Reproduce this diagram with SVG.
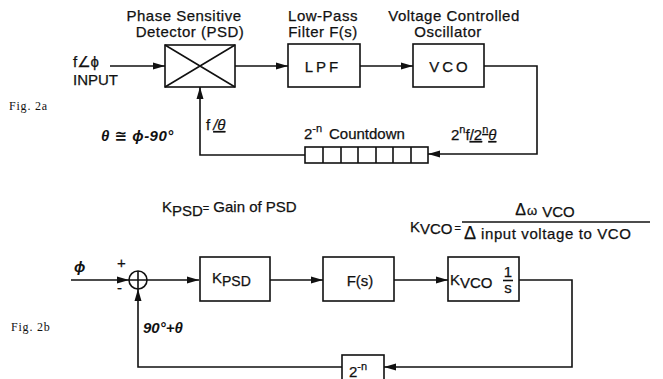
<svg xmlns="http://www.w3.org/2000/svg" width="663" height="379" viewBox="0 0 663 379">
<style>
text{font-family:"Liberation Sans","DejaVu Sans",sans-serif;fill:#111;font-size:15px;stroke:#111;stroke-width:0.25}
.fig{font-family:"Liberation Serif",serif;font-size:12px;letter-spacing:0.8px;stroke:none}
.box{fill:#fff;stroke:#111;stroke-width:1.6}
.ln{fill:none;stroke:#111;stroke-width:1.6}
.c{text-anchor:middle}
.it{font-style:italic;font-weight:bold;stroke:none}
.sp{letter-spacing:0.5px}
</style>
<defs>
<marker id="ah" markerWidth="12" markerHeight="8" refX="12" refY="4" orient="auto" markerUnits="userSpaceOnUse">
<path d="M0,0.5 L12,4 L0,7.5 z" fill="#111"/>
</marker>
</defs>
<rect width="663" height="379" fill="#fff"/>

<text class="fig" x="9" y="110">Fig. 2a</text>
<text class="fig" x="11" y="331">Fig. 2b</text>

<g id="input-label">
<text x="73" y="67">f∠ϕ</text>
<text x="73" y="85">INPUT</text>
</g>

<g id="psd">
<text class="c sp" x="184" y="21">Phase Sensitive</text>
<text class="c sp" x="190" y="37">Detector (PSD)</text>
<rect class="box" x="165" y="45" width="70" height="42"/>
<path class="ln" d="M165,45 L235,87 M165,87 L235,45"/>
</g>

<g id="lpf">
<text class="c sp" x="323" y="21">Low-Pass</text>
<text class="c sp" x="323" y="37">Filter F(s)</text>
<rect class="box" x="288" y="44" width="72" height="43"/>
<text class="c" x="323" y="72" style="letter-spacing:3px">LPF</text>
</g>

<g id="vco">
<text class="c sp" x="454" y="21">Voltage Controlled</text>
<text class="c sp" x="448" y="37">Oscillator</text>
<rect class="box" x="413" y="44" width="71" height="43"/>
<text class="c" x="450" y="72" style="letter-spacing:3px">VCO</text>
</g>

<g id="countdown">
<text x="304" y="139">2<tspan dy="-7" font-size="11">-n</tspan><tspan dy="7" x="329">Countdown</tspan></text>
<rect class="box" x="305" y="147" width="123" height="16"/>
<path class="ln" d="M323,147V163M341,147V163M358,147V163M376,147V163M393,147V163M411,147V163"/>
</g>

<g id="labels-2a">
<text class="it" x="101" y="141" style="letter-spacing:0.5px">θ ≅ ϕ-90°</text>
<text x="206" y="130">f<tspan dx="3" text-decoration="underline" font-style="italic">/θ</tspan></text>
<text x="451" y="140">2<tspan dy="-7" font-size="11">n</tspan><tspan dy="7">f</tspan><tspan text-decoration="underline">/2<tspan dy="-7" font-size="11">n</tspan><tspan dy="7" font-style="italic">θ</tspan></tspan></text>
</g>

<g id="connectors">
<path class="ln" d="M110,66H165" marker-end="url(#ah)"/>
<path class="ln" d="M235,66H288" marker-end="url(#ah)"/>
<path class="ln" d="M360,66H413" marker-end="url(#ah)"/>
<path class="ln" d="M484,66H537V154H428" marker-end="url(#ah)"/>
<path class="ln" d="M305,155H200V87" marker-end="url(#ah)"/>
<path class="ln" d="M71,280H129" marker-end="url(#ah)"/>
<path class="ln" d="M147,280H199" marker-end="url(#ah)"/>
<path class="ln" d="M270,280H323" marker-end="url(#ah)"/>
<path class="ln" d="M394,280H448" marker-end="url(#ah)"/>
<path class="ln" d="M519,280H572V367H384" marker-end="url(#ah)"/>
<path class="ln" d="M342,367H138V289" marker-end="url(#ah)"/>
</g>

<g id="defs-text">
<text x="162" y="212">K<tspan dy="4">PSD</tspan><tspan dy="-4" font-size="11">=</tspan><tspan dx="4">Gain of PSD</tspan></text>
<text x="410" y="232">K<tspan dy="2" font-size="15">VCO</tspan><tspan dy="-2" font-size="11" dx="2">=</tspan></text>
<text class="c" x="545" y="215"><tspan font-size="16">Δ</tspan><tspan font-size="13" dx="1">ω</tspan><tspan dy="2" dx="5">VCO</tspan></text>
<path class="ln" d="M462,222H650" stroke-width="1.2"/>
<text x="464" y="239"><tspan font-size="18">Δ</tspan><tspan dx="5" font-size="15" letter-spacing="0.6">input voltage to VCO</tspan></text>
</g>

<g id="sum">
<circle class="ln" cx="138" cy="280" r="9"/>
<path class="ln" d="M129,280H147M138,271V289"/>
<text x="74" y="272" class="it">ϕ</text>
<text x="117" y="268" font-size="12">+</text>
<text x="117" y="293" font-size="15">-</text>
<text class="it" x="143" y="333">90°+θ</text>
</g>

<g id="kpsd">
<rect class="box" x="200" y="257" width="70" height="44"/>
<text x="212" y="283">K<tspan dy="3" font-size="14">PSD</tspan></text>
</g>

<g id="fs">
<rect class="box" x="323" y="257" width="71" height="44"/>
<text class="c" x="360" y="286">F(s)</text>
</g>

<g id="kvco">
<rect class="box" x="448" y="257" width="71" height="44"/>
<text x="450" y="285">K<tspan dy="3" font-size="15">VCO</tspan></text>
<text class="c" x="508" y="277" font-size="12">1</text>
<path class="ln" d="M503,280.5H513" stroke-width="1.2"/>
<text class="c" x="508" y="293" font-size="12">s</text>
</g>

<g id="div">
<rect class="box" x="342" y="355" width="42" height="26"/>
<text x="349" y="377">2<tspan dy="-7" font-size="11">-n</tspan></text>
</g>
</svg>
